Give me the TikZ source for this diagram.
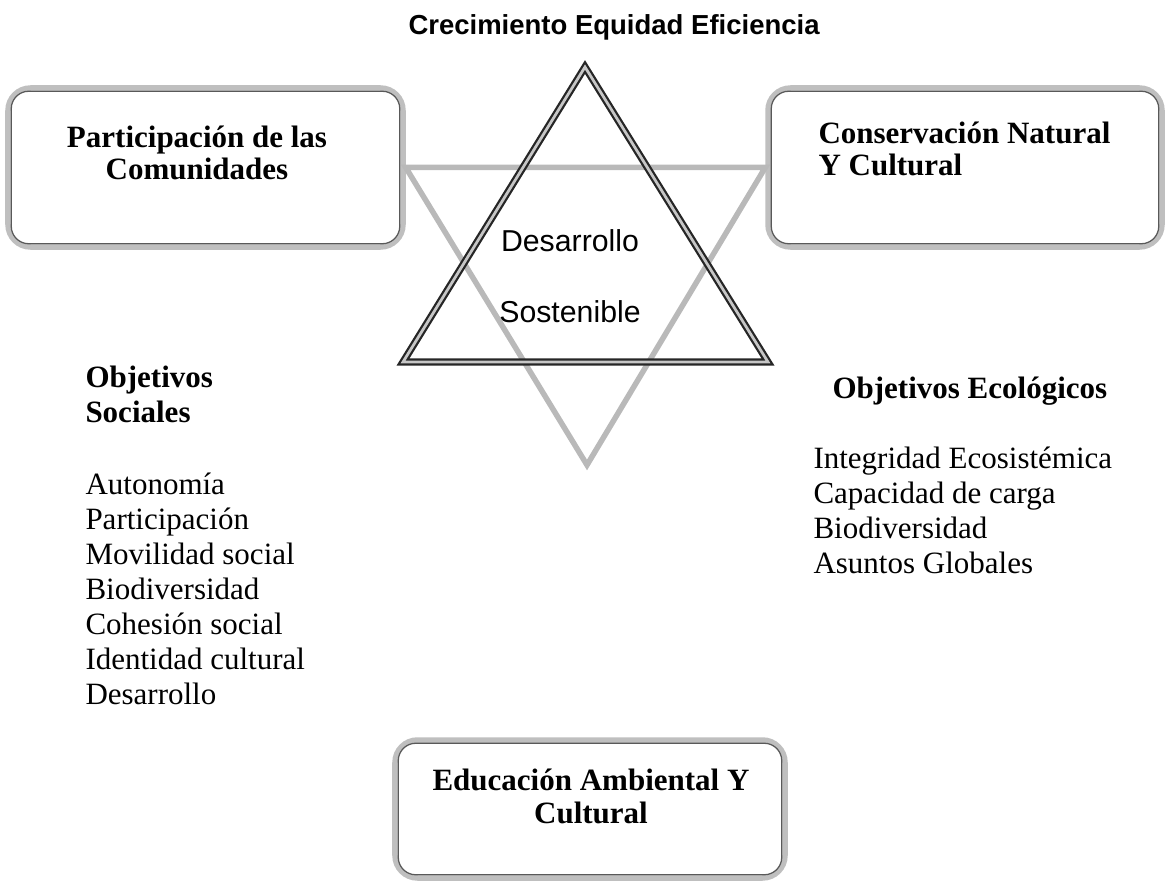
\documentclass[tikz,border=0pt]{standalone}
\usepackage{fontspec}
\setmainfont{Liberation Serif}
\newfontfamily\arialfont{Liberation Sans}
\usetikzlibrary{positioning}
\tikzstyle{every node}=[inner sep=0pt]
\tikzstyle{roundbox}=[rectangle, rounded corners=9pt, draw=gray!50, line width=2.2pt]
\tikzstyle{boxline}=[rounded corners=7pt, draw=black!65, line width=0.5pt]
\tikzstyle{boxtext}=[font=\fontsize{12.4}{13}\selectfont\bfseries]
\tikzstyle{listtext}=[font=\fontsize{12.4}{14}\selectfont, align=left]
\tikzstyle{headtext}=[font=\fontsize{12.4}{14}\selectfont\bfseries, align=left]
\tikzstyle{darktri}=[draw=black!85, line width=0.9pt, double=gray!45, double distance=1.1pt, line join=miter]
\tikzstyle{lighttri}=[draw=gray!55, line width=2.2pt, line join=miter]

\begin{document}
\begin{tikzpicture}[x=0.4pt, y=-0.4pt]
\useasboundingbox (0,0) rectangle (1168,886);
% Title
    \node[font=\arialfont\fontsize{11}{13}\selectfont\bfseries, anchor=base west] (titulo) at (408,35) {Crecimiento Equidad Eficiencia};
% Boxes
    \node[roundbox, minimum width=158pt, minimum height=63.6pt] (comunidades) at (205.5,167.5) {};
    \node[roundbox, minimum width=157.6pt, minimum height=63.6pt] (conservacion) at (965,167.5) {};
    \node[roundbox, minimum width=156pt, minimum height=55.2pt] (educacion) at (590,809) {};
    \foreach \b in {comunidades,conservacion,educacion}
        \draw[boxline] ([shift={(6,6)}]\b.north west) rectangle ([shift={(-6,-6)}]\b.south east);
% Box labels (base = last line)
    \node[boxtext, align=center, anchor=base] (comunidadestxt) at (197,180) {Participación de las\\Comunidades};
    \node[boxtext, align=left, anchor=base west] (conservaciontxt) at (818,176) {Conservación Natural\\Y Cultural};
    \node[boxtext, align=center, anchor=base] (educaciontxt) at (591,823) {Educación Ambiental Y\\Cultural};
% Star
    \coordinate (apex) at (585,67);
    \coordinate (baseL) at (403,362);
    \coordinate (baseR) at (768,362);
    \coordinate (fondo) at (587,465);
    \draw[lighttri] (comunidades.east) -- (conservacion.west) -- (fondo) -- cycle;
    \draw[darktri] (apex) -- (baseR) -- (baseL) -- cycle;
    \node[font=\arialfont\fontsize{12.1}{28.4}\selectfont, align=center, anchor=base] (centro) at (570,323) {Desarrollo\\Sostenible};
% Objectives
    \node[headtext, anchor=base west] (socialesh) at (85,423) {Objetivos\\Sociales};
    \node[listtext, anchor=base west] (sociales) at (85,704) {Autonomía\\Participación\\Movilidad social\\Biodiversidad\\Cohesión social\\Identidad cultural\\Desarrollo};
    \node[headtext, anchor=base west] (ecologicosh) at (832,398) {Objetivos Ecológicos};
    \node[listtext, anchor=base west] (ecologicos) at (813,573) {Integridad Ecosistémica\\Capacidad de carga\\Biodiversidad\\Asuntos Globales};
\end{tikzpicture}
\end{document}
